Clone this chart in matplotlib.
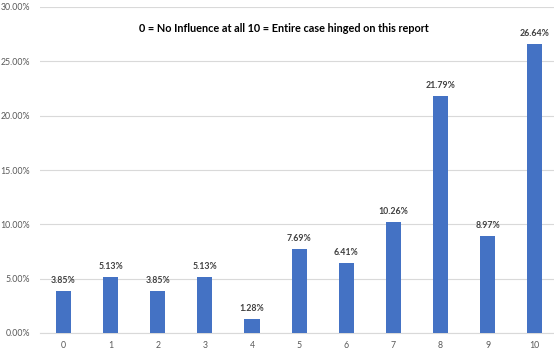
"""
Influence rating distribution
"""

import matplotlib.pyplot as plt
import numpy as np

plt.rcParams["font.family"] = ["Lato", "DejaVu Sans"]

# 数据
ratings = ["0", "1", "2", "3", "4", "5", "6", "7", "8", "9", "10"]
shares = [3.85, 5.13, 3.85, 5.13, 1.28, 7.69, 6.41, 10.26, 21.79, 8.97, 26.64]
title_text = "0 = No Influence at all 10 = Entire case hinged on this report"

fig = plt.figure(figsize=(5.54, 3.52), dpi=100)
ax = fig.add_axes([40 / 554, 19 / 352, 514 / 554, 326 / 352])

x = np.arange(len(ratings))
ax.bar(x, shares, width=0.32, color="#4472C4", zorder=3)

for xi, val in zip(x, shares):
    ax.text(xi, val + 0.55, f"{val:.2f}%", ha="center", va="bottom",
            fontsize=6.3, color="#404040", fontweight="bold")

ax.set_ylim(0, 30)
ax.set_xlim(-0.5, 10.41)
ax.set_yticks(np.arange(0, 31, 5))
ax.set_yticklabels([f"{v:.2f}%" for v in np.arange(0, 31, 5)])
ax.set_xticks(x)
ax.set_xticklabels(ratings)
ax.tick_params(axis="both", length=0, labelsize=6.3, colors="#595959")
ax.tick_params(axis="x", pad=6)
ax.tick_params(axis="y", pad=7)
ax.grid(axis="y", color="#D9D9D9", linewidth=0.8, zorder=0)
for side in ["top", "right", "left"]:
    ax.spines[side].set_visible(False)
ax.spines["bottom"].set_color("#D9D9D9")

fig.text(284 / 554, 1 - 28 / 352, title_text, ha="center", va="center",
         fontsize=7.8, fontweight="bold", color="#000000")

plt.savefig("out.png", dpi=100)
plt.close()
